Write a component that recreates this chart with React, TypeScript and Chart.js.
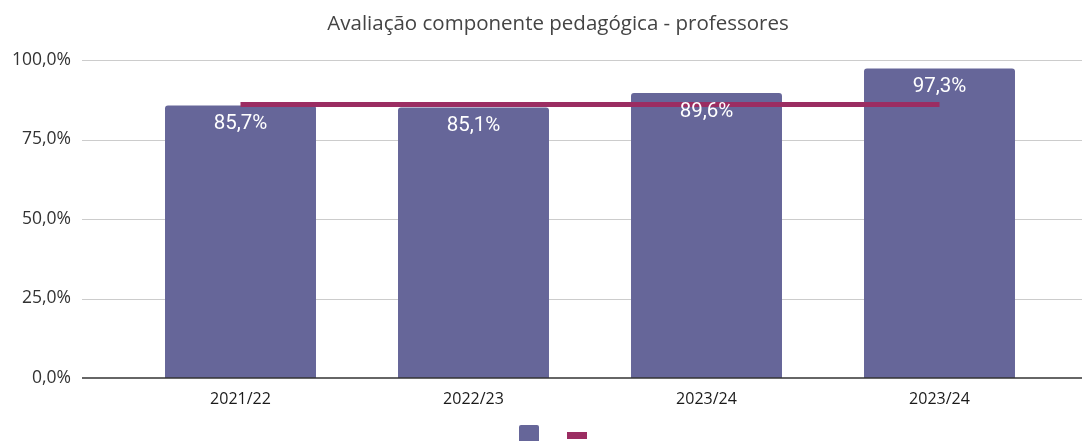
import React, { useEffect, useRef } from 'react';
import { Chart, registerables } from 'chart.js';

Chart.register(...registerables);

const TITLE = 'Avaliação componente pedagógica - professores';
const categories = ['2021/22', '2022/23', '2023/24', '2023/24'];
const barValues = [85.7, 85.1, 89.6, 97.3];
const lineValues = [86, 86, 86, 86];
const yTicks = [0, 25, 50, 75, 100];

const BAR_COLOR = '#666699';
const LINE_COLOR = '#9b2d62';
const FONT = '"Open Sans", "DejaVu Sans", sans-serif';

const fmt = (v: number) => v.toFixed(1).replace('.', ',') + '%';

const decor = {
  id: 'decor',
  beforeDatasetsDraw(chart: any) {
    const { ctx, chartArea } = chart;
    const y = chart.scales.y;
    const left = chartArea.left - 42;
    const right = chartArea.right + 26;
    ctx.save();
    for (const t of yTicks) {
      if (t === 0) continue;
      const py = Math.round(y.getPixelForValue(t)) + 0.5;
      ctx.beginPath();
      ctx.moveTo(left, py);
      ctx.lineTo(right, py);
      ctx.strokeStyle = '#cccccc';
      ctx.lineWidth = 1;
      ctx.stroke();
    }
    ctx.restore();
  },
  afterDatasetsDraw(chart: any) {
    const { ctx, chartArea } = chart;
    const y = chart.scales.y;
    const left = chartArea.left - 42;
    const right = chartArea.right + 26;
    ctx.save();
    const py = Math.round(y.getPixelForValue(0));
    ctx.beginPath();
    ctx.moveTo(left, py);
    ctx.lineTo(right, py);
    ctx.strokeStyle = '#333333';
    ctx.lineWidth = 1.5;
    ctx.stroke();

    // data labels
    const meta = chart.getDatasetMeta(1);
    ctx.fillStyle = '#ffffff';
    ctx.font = '20.5px Roboto, "Open Sans", sans-serif';
    ctx.textAlign = 'center';
    ctx.textBaseline = 'middle';
    meta.data.forEach((el: any, i: number) => {
      ctx.fillText(fmt(barValues[i]), el.x, el.y + 18.5);
    });
    ctx.restore();
  },
  afterDraw(chart: any) {
    const { ctx } = chart;
    ctx.save();
    ctx.fillStyle = '#444444';
    ctx.font = `20.5px ${FONT}`;
    ctx.textAlign = 'center';
    ctx.textBaseline = 'alphabetic';
    ctx.fillText(TITLE, 558, 30);

    // legend
    ctx.fillStyle = BAR_COLOR;
    ctx.beginPath();
    (ctx as any).roundRect(519, 425, 20, 20, 2);
    ctx.fill();
    ctx.fillStyle = LINE_COLOR;
    ctx.fillRect(567, 432, 20, 7);
    ctx.restore();
  },
};

export default function App() {
  const ref = useRef<HTMLCanvasElement | null>(null);

  useEffect(() => {
    if (!ref.current) return;
    const chart = new Chart(ref.current, {
      type: 'bar',
      data: {
        labels: categories,
        datasets: [
          {
            type: 'line',
            label: '',
            data: lineValues,
            borderColor: LINE_COLOR,
            backgroundColor: LINE_COLOR,
            borderWidth: 5,
            pointRadius: 0,
            borderCapStyle: 'butt',
            order: 0,
          } as any,
          {
            type: 'bar',
            label: '',
            data: barValues,
            backgroundColor: BAR_COLOR,
            borderRadius: 3,
            borderSkipped: 'bottom',
            categoryPercentage: 1,
            barPercentage: 0.648,
            order: 1,
          } as any,
        ],
      },
      options: {
        responsive: false,
        animation: false,
        layout: { padding: { left: 0, right: 27, top: 60, bottom: 23 } },
        plugins: {
          legend: { display: false },
          title: { display: false },
          tooltip: { enabled: false },
        },
        scales: {
          x: {
            grid: { display: false, drawTicks: false },
            border: { display: false },
            ticks: {
              color: '#1a1a1a',
              font: { family: FONT, size: 16 },
              padding: 12,
              maxRotation: 0,
            },
            afterFit: (s: any) => { s.height = 40; },
          },
          y: {
            min: 0,
            max: 100,
            grid: { display: false, drawTicks: false },
            border: { display: false },
            ticks: {
              stepSize: 25,
              color: '#333333',
              font: { family: FONT, size: 17.5 },
              padding: 53,
              callback: (v: any) => fmt(Number(v)),
            },
            afterFit: (s: any) => {
              s.width = 124;
              s.paddingTop = 10;
              s.paddingBottom = 10;
            },
          },
        },
      },
      plugins: [decor],
    } as any);
    return () => chart.destroy();
  }, []);

  return (
    <div style={{ position: 'absolute', left: 0, top: 0, width: 1083, height: 441, background: '#fff' }}>
      <canvas ref={ref} width={1083} height={441} style={{ display: 'block' }} />
    </div>
  );
}
